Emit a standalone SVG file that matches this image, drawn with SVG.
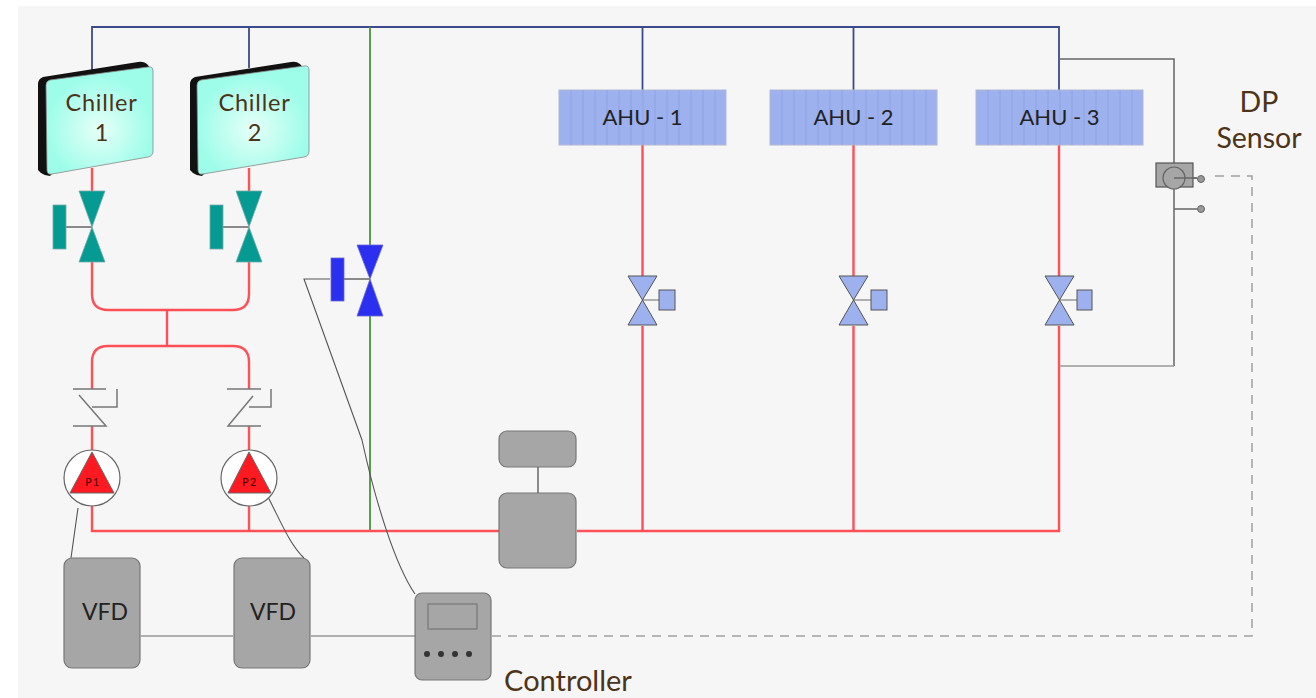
<svg xmlns="http://www.w3.org/2000/svg" width="1316" height="698" viewBox="0 0 1316 698">
<style>
text{font-family:Lato,"Open Sans","Liberation Sans",sans-serif}
.lbl{fill:#4d3318;text-anchor:middle}
.chl{font-size:23.500px;letter-spacing:.8px}
.dps{font-size:28.500px}
.dk{fill:#222;font-size:22px;text-anchor:middle}
.vfd{font-size:23px}
.hot{fill:none;stroke:#ff4f57;stroke-width:2.400}
.cold{fill:none;stroke:#3c4a8c;stroke-width:1.800}
.sig{fill:none;stroke:#666;stroke-width:1.500}
.lite{fill:none;stroke:#999;stroke-width:1.500}
.thin{fill:none;stroke:#555;stroke-width:1.100}
.dash{fill:none;stroke:#a0a0a0;stroke-width:1.500;stroke-dasharray:9 7}
.box{fill:#a6a6a6;stroke:#777;stroke-width:1.200}
.ahu{fill:#9db1ef;stroke:#b0b8d0;stroke-width:1}
.rib{stroke:#8ea3e2;stroke-width:1}
.av{fill:#9db1ef;stroke:#555;stroke-width:1}
.tv{fill:#059a92;stroke:#7aa;stroke-width:.8}
.bv{fill:#2a2ff0;stroke:#6a6ad0;stroke-width:.8}
.chk{fill:none;stroke:#777;stroke-width:1.500}
.pc{fill:#fff;stroke:#666;stroke-width:1.200}
.pt{fill:#ff1a22;stroke:#666;stroke-width:1}
.ptx{font-size:10.500px;fill:#400;text-anchor:middle;letter-spacing:1.500px}
.back{fill:#111}
.front{fill:url(#cg);stroke:#888;stroke-width:.8}
</style>
<defs>
<radialGradient id="cg" cx="50%" cy="58%" r="50%"><stop offset="0" stop-color="#e6fff8"/><stop offset="1" stop-color="#9dfde9"/></radialGradient>
</defs>
<rect x="18" y="6" width="1298" height="692" fill="#f6f6f6"/>
<g id="connectors">
<path class="cold" d="M92 70V27H1059V90"/>
<path class="cold" d="M249 27V68M642.500 27V90M853.500 27V90"/>
<path d="M370 27V246M370 316V531" fill="none" stroke="#4a9440" stroke-width="1.800"/>
<path class="hot" d="M92 168V192M92 262V294Q92 310 108 310H233Q249 310 249 294V262M249 168V192"/>
<path class="hot" d="M167 310V346M92 389V362Q92 346 108 346H233Q249 346 249 362V389"/>
<path class="hot" d="M92 426V452M249 426V452M92 505V531H499M249 505V531M577 531H1059V326M642.500 145V276M642.500 326V531M853.500 145V276M853.500 326V531M1059 145V276"/>
<path class="sig" d="M1059 59H1174V366"/>
<path class="lite" d="M1174 366H1059"/>
<path class="sig" d="M1174 209H1197M1174 178H1197"/>
<path class="thin" d="M78 508L71 558M268 497C280 520 290 545 304 558"/>
<path class="thin" d="M330 279H304L362 440C375 500 395 565 415 594"/>
<path class="lite" d="M141 636H233M311 636H415"/>
<path class="dash" d="M492 636H1252V176H1208"/>
<path class="sig" d="M538 466V493"/>
</g>
<g id="chiller-1">
<path class="back" d="M38 84Q38 79 43 77L138 62Q143 61 147 64L152 70L50 176Q45 176 41 173L38 170Z"/>
<path class="front" d="M46 85Q46 81 50 80L148 67Q153 66 153 71V151Q153 156 148 157L52 174Q47 175 47 170Z"/>
<text class="lbl chl" x="101.500" y="111">Chiller</text>
<text class="lbl chl" x="102" y="141">1</text>
</g>
<g id="chiller-2">
<path class="back" d="M190 84Q190 79 195 77L291 62Q296 61 300 64L305 70L202 176Q197 176 193 173L190 170Z"/>
<path class="front" d="M197 85Q197 81 201 80L304 66Q309 65 309 70V151Q309 156 304 157L203 174Q198 175 198 170Z"/>
<text class="lbl chl" x="254.500" y="111">Chiller</text>
<text class="lbl chl" x="255" y="141">2</text>
</g>
<g id="valve-1">
<path class="sig" d="M66 227H92"/>
<rect class="tv" x="53" y="205" width="13" height="44"/>
<path class="tv" d="M79 191H105L92 227L105 262H79L92 227Z"/>
</g>
<g id="valve-2">
<path class="sig" d="M223 227H249"/>
<rect class="tv" x="210" y="205" width="13" height="44"/>
<path class="tv" d="M236 191H262L249 227L262 262H236L249 227Z"/>
</g>
<g id="bypass-valve">
<path class="sig" d="M344 279H370"/>
<rect class="bv" x="331" y="258" width="13" height="43"/>
<path class="bv" d="M357 245H383L370 279L383 316H357L370 279Z"/>
</g>
<g id="check-1">
<path class="chk" d="M73 389H106M79 395L106 426H73M117 389V407H92"/>
</g>
<g id="check-2">
<path class="chk" d="M227 389H261M253 396L228 426H261M271 389V407H249"/>
</g>
<g id="pump-1">
<circle class="pc" cx="92" cy="478" r="28"/>
<path class="pt" d="M92 452L114 493H70Z"/>
<text class="ptx" x="93" y="486">P1</text>
</g>
<g id="pump-2">
<circle class="pc" cx="249" cy="478" r="28"/>
<path class="pt" d="M249 452L271 493H228Z"/>
<text class="ptx" x="250" y="486">P2</text>
</g>
<g id="vfd-1">
<rect class="box" x="64" y="558" width="76" height="110" rx="8"/>
<text class="dk vfd" x="105" y="620">VFD</text>
</g>
<g id="vfd-2">
<rect class="box" x="234" y="558" width="76" height="110" rx="8"/>
<text class="dk vfd" x="273" y="620">VFD</text>
</g>
<g id="controller">
<rect class="box" x="415" y="593" width="76" height="87" rx="7"/>
<rect x="428" y="604" width="49" height="25" fill="#a6a6a6" stroke="#777" stroke-width="1.200"/>
<g fill="#333"><circle cx="427" cy="654" r="3"/><circle cx="441" cy="654" r="3"/><circle cx="455" cy="654" r="3"/><circle cx="469" cy="654" r="3"/></g>
<text class="lbl" style="font-size:29px" x="568" y="691">Controller</text>
</g>
<g id="flow-meter">
<rect class="box" x="499" y="431" width="77" height="36" rx="8"/>
<rect class="box" x="499" y="493" width="77" height="75" rx="8"/>
</g>
<g id="ahu-1">
<rect class="ahu" x="559" y="90" width="167" height="55"/>
<path class="rib" d="M571 90V145M583 90V145M595 90V145M607 90V145M619 90V145M631 90V145M643 90V145M655 90V145M667 90V145M679 90V145M691 90V145M703 90V145M715 90V145"/>
<text class="dk" x="642.500" y="125">AHU - 1</text>
</g>
<g id="ahu-2">
<rect class="ahu" x="770" y="90" width="167" height="55"/>
<path class="rib" d="M782 90V145M794 90V145M806 90V145M818 90V145M830 90V145M842 90V145M854 90V145M866 90V145M878 90V145M890 90V145M902 90V145M914 90V145M926 90V145"/>
<text class="dk" x="853.500" y="125">AHU - 2</text>
</g>
<g id="ahu-3">
<rect class="ahu" x="976" y="90" width="167" height="55"/>
<path class="rib" d="M988 90V145M1000 90V145M1012 90V145M1024 90V145M1036 90V145M1048 90V145M1060 90V145M1072 90V145M1084 90V145M1096 90V145M1108 90V145M1120 90V145M1132 90V145"/>
<text class="dk" x="1059.500" y="125">AHU - 3</text>
</g>
<g id="ahu-valve-1">
<path class="lite" d="M642.500 300H659"/>
<rect class="av" x="659" y="290" width="16" height="20"/>
<path class="av" d="M628 276H657L642.500 300L657 325H628L642.500 300Z"/>
</g>
<g id="ahu-valve-2">
<path class="lite" d="M853.500 300H871"/>
<rect class="av" x="871" y="290" width="16" height="20"/>
<path class="av" d="M839 276H868L853.500 300L868 325H839L853.500 300Z"/>
</g>
<g id="ahu-valve-3">
<path class="lite" d="M1059 300H1077"/>
<rect class="av" x="1077" y="290" width="15" height="20"/>
<path class="av" d="M1045 276H1074L1059.500 300L1074 325H1045L1059.500 300Z"/>
</g>
<g id="dp-sensor">
<rect x="1156" y="163" width="37" height="24" fill="#a6a6a6" stroke="#555" stroke-width="1.200"/>
<circle cx="1174" cy="178" r="11" fill="#a6a6a6" stroke="#666" stroke-width="1.200"/>
<path class="sig" d="M1174 178H1197"/>
<circle cx="1201" cy="179" r="3.500" fill="#999" stroke="#666"/>
<circle cx="1201" cy="209" r="3.500" fill="#999" stroke="#666"/>
<text class="lbl dps" x="1259" y="112">DP</text>
<text class="lbl dps" x="1259" y="148">Sensor</text>
</g>
</svg>
